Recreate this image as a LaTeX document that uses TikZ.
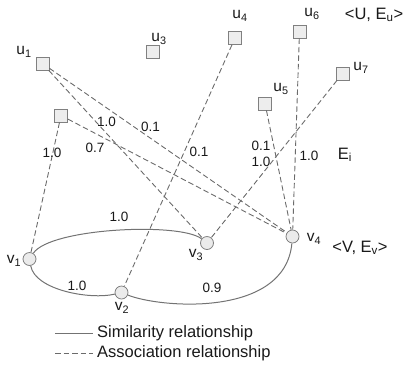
\documentclass[tikz,border=0pt]{standalone}
\usepackage{fontspec}
\setmainfont{Liberation Sans}
\begin{document}
\begin{tikzpicture}[x=1pt,y=-1pt,
  usq/.style={draw=black!50,fill=black!7,minimum size=13pt,inner sep=0pt,line width=0.8pt},
  vc/.style={circle,draw=black!50,fill=black!8,minimum size=13pt,inner sep=0pt,line width=0.8pt},
  assoc/.style={draw=black!58,line width=0.9pt,dash pattern=on 5.5pt off 3pt},
  simil/.style={draw=black!55,line width=1pt},
  elab/.style={font=\fontsize{13.5}{13.5}\selectfont,text=black!90,inner sep=0pt},
  nlab/.style={font=\fontsize{15.5}{15.5}\selectfont,text=black!90,inner sep=0pt},
  leg/.style={font=\fontsize{16.5}{16.5}\selectfont,text=black!90,inner sep=0pt,anchor=west}]
\useasboundingbox (0,0) rectangle (403,368);
% squares
\node[usq] (u1) at (42.5,63.5) {};
\node[usq] (u2) at (61,115.5) {};
\node[usq] (u3) at (152.5,51.5) {};
\node[usq] (u4) at (235,38) {};
\node[usq] (u6) at (299.5,31.5) {};
\node[usq] (u7) at (342.5,73.5) {};
\node[usq] (u5) at (265,103.5) {};
% circles
\node[vc] (v1) at (29.5,259) {};
\node[vc] (v2) at (121.5,292.5) {};
\node[vc] (v3) at (207,243) {};
\node[vc] (v4) at (292.5,236.5) {};
% node labels
\node[nlab] (lu1) at (24,52) {u\textsubscript{1}};
\node[nlab] (lu3) at (159,39) {u\textsubscript{3}};
\node[nlab] (lu4) at (240,16) {u\textsubscript{4}};
\node[nlab] (lu6) at (312,14) {u\textsubscript{6}};
\node[nlab] (lu7) at (361,68) {u\textsubscript{7}};
\node[nlab] (lu5) at (281,89) {u\textsubscript{5}};
\node[nlab] (lv1) at (14,261) {v\textsubscript{1}};
\node[nlab] (lv2) at (122,308) {v\textsubscript{2}};
\node[nlab] (lv3) at (196,255) {v\textsubscript{3}};
\node[nlab] (lv4) at (314,239) {v\textsubscript{4}};
\node[nlab,font=\fontsize{16.5}{16.5}\selectfont] (UE) at (374,15) {<U, E\textsubscript{u}>};
\node[nlab,font=\fontsize{16.5}{16.5}\selectfont] (VE) at (360,248) {<V, E\textsubscript{v}>};
\node[nlab,font=\fontsize{16.5}{16.5}\selectfont] (Ei) at (345,155) {E\textsubscript{i}};
% association edges
\draw[assoc] (u1) -- (v3);
\draw[assoc] (u1) -- (v4);
\draw[assoc] (u2) -- (v1);
\draw[assoc] (u2) -- (v4);
\draw[assoc] (u4) -- (v2);
\draw[assoc] (u5) -- (v4);
\draw[assoc] (u7) -- (v3);
\draw[assoc] (u6) -- (v4);
% similarity edges
\draw[simil] (v1) .. controls (50,228) and (180,222) .. (v3);
\draw[simil] (v1) .. controls (35,290) and (90,300) .. (v2);
\draw[simil] (v2) .. controls (160,308) and (285,318) .. (v4);
% edge labels
\node[elab] (e1) at (106.5,122) {1.0};
\node[elab] (e2) at (150.5,127) {0.1};
\node[elab] (e3) at (52,152.5) {1.0};
\node[elab] (e4) at (95,147.5) {0.7};
\node[elab] (e5) at (199,152) {0.1};
\node[elab] (e6) at (261,146) {0.1};
\node[elab] (e7) at (261,162) {1.0};
\node[elab] (e8) at (309,156) {1.0};
\node[elab] (e9) at (119,217) {1.0};
\node[elab] (e10) at (77,286) {1.0};
\node[elab] (e11) at (212,288) {0.9};
% legend
\coordinate (ls1) at (55,333);
\coordinate (ls2) at (93,333);
\coordinate (la1) at (55,353);
\coordinate (la2) at (93,353);
\draw[simil] (ls1) -- (ls2);
\draw[assoc] (la1) -- (la2);
\node[leg] (lt1) at (97,333) {Similarity relationship};
\node[leg] (lt2) at (97,353) {Association relationship};
\end{tikzpicture}
\end{document}
